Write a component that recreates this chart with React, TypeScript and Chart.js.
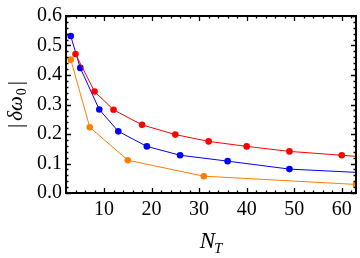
import React, { useEffect, useRef } from "react";
import { Chart, registerables } from "chart.js";

Chart.register(...registerables);

// ---- data ----
const redX = [4, 8, 12, 18, 25, 32, 40, 49, 60, 72];
const redY = [0.471, 0.344, 0.282, 0.231, 0.198, 0.175, 0.158, 0.141, 0.128, 0.113];
const blueX = [3, 5, 9, 13, 19, 26, 36, 49, 68];
const blueY = [0.532, 0.424, 0.283, 0.209, 0.158, 0.128, 0.108, 0.081, 0.066];
const orangeX = [3, 7, 15, 31, 63];
const orangeY = [0.452, 0.223, 0.111, 0.057, 0.029];

const xTickValues = [10, 20, 30, 40, 50, 60];
const yTickValues = [0, 0.1, 0.2, 0.3, 0.4, 0.5, 0.6];
const xMinorStep = 2;
const yMinorStep = 0.02;
const xRange = [2, 63];
const yRange = [0, 0.6];

const yTitleParts = ["|", "δω", "0", "|"];
const xTitleParts = ["N", "T"];

const SERIF = "'Liberation Serif', 'Times New Roman', serif";

function toPoints(xs: number[], ys: number[]) {
  return xs.map((x, i) => ({ x, y: ys[i] }));
}

const framePlugin = {
  id: "mmaFrame",
  afterDatasetsDraw(chart: any) {
    const { ctx, chartArea: a, scales } = chart;
    const xs = scales.x;
    const ys = scales.y;
    ctx.save();
    ctx.strokeStyle = "#000";
    ctx.lineWidth = 1.3;
    const majorLen = 5;
    const minorLen = 2.5;
    // x ticks (bottom & top)
    const nx0 = Math.ceil(xRange[0] / xMinorStep);
    const nx1 = Math.floor(xRange[1] / xMinorStep);
    for (let k = nx0; k <= nx1; k++) {
      const v = k * xMinorStep;
      const isMajor = Math.abs(v % 10) < 1e-9;
      const len = isMajor ? majorLen : minorLen;
      const px = Math.round(xs.getPixelForValue(v)) + 0.5;
      ctx.beginPath();
      ctx.moveTo(px, a.bottom);
      ctx.lineTo(px, a.bottom - len);
      ctx.moveTo(px, a.top);
      ctx.lineTo(px, a.top + len);
      ctx.stroke();
    }
    const ny1 = Math.round((yRange[1] - yRange[0]) / yMinorStep);
    for (let k = 0; k <= ny1; k++) {
      const v = yRange[0] + k * yMinorStep;
      const isMajor = k % 5 === 0;
      const len = isMajor ? majorLen : minorLen;
      const py = Math.round(ys.getPixelForValue(v)) + 0.5;
      ctx.beginPath();
      ctx.moveTo(a.left, py);
      ctx.lineTo(a.left + len, py);
      ctx.moveTo(a.right, py);
      ctx.lineTo(a.right - len, py);
      ctx.stroke();
    }
    ctx.lineWidth = 2;
    ctx.strokeRect(a.left, a.top, a.right - a.left, a.bottom - a.top);
    ctx.restore();
  },
  afterDraw(chart: any) {
    const { ctx, chartArea: a } = chart;
    ctx.save();
    ctx.fillStyle = "#000";
    ctx.textBaseline = "alphabetic";
    ctx.textAlign = "left";

    // Y title: |δω0| rotated
    const mainY = `21px ${SERIF}`;
    const italY = `italic 21px ${SERIF}`;
    const subY = `14px ${SERIF}`;
    const fontsY = [mainY, italY, subY, mainY];
    const shiftsY = [0, 0, 4, 0];
    const gapsY = [3, 1, 3, 0];
    const widths = yTitleParts.map((t, i) => {
      ctx.font = fontsY[i];
      return ctx.measureText(t).width;
    });
    const totalY = widths.reduce((s, w, i) => s + w + gapsY[i], 0);
    ctx.translate(22, (a.top + a.bottom) / 2);
    ctx.rotate(-Math.PI / 2);
    let cx = -totalY / 2;
    yTitleParts.forEach((t, i) => {
      ctx.font = fontsY[i];
      ctx.fillText(t, cx, shiftsY[i]);
      cx += widths[i] + gapsY[i];
    });
    ctx.setTransform(1, 0, 0, 1, 0, 0);

    // X title: N_T
    const fN = `italic 23px ${SERIF}`;
    const fT = `italic 15px ${SERIF}`;
    ctx.font = fN;
    const wN = ctx.measureText(xTitleParts[0]).width;
    ctx.font = fT;
    const wT = ctx.measureText(xTitleParts[1]).width;
    const total = wN + wT - 1;
    const startX = (a.left + a.right) / 2 - total / 2;
    const baseY = 248;
    ctx.font = fN;
    ctx.fillText(xTitleParts[0], startX, baseY);
    ctx.font = fT;
    ctx.fillText(xTitleParts[1], startX + wN - 1, baseY + 5);
    ctx.restore();
  },
};

export default function App() {
  const canvasRef = useRef<HTMLCanvasElement | null>(null);

  useEffect(() => {
    document.body.style.margin = "0";
    const canvas = canvasRef.current;
    if (!canvas) return;
    const mk = (label: string, xs: number[], ys: number[], color: string) => ({
      label,
      data: toPoints(xs, ys),
      borderColor: color,
      backgroundColor: color,
      pointBackgroundColor: color,
      pointBorderWidth: 0,
      pointRadius: 3.3,
      borderWidth: 1,
      tension: 0,
      showLine: true,
    });
    const chart = new Chart(canvas, {
      type: "scatter",
      data: {
        datasets: [
          mk("red", redX, redY, "rgb(255,0,0)"),
          mk("blue", blueX, blueY, "rgb(0,0,255)"),
          mk("orange", orangeX, orangeY, "rgb(255,128,0)"),
        ],
      },
      options: {
        responsive: false,
        animation: false,
        devicePixelRatio: 1,
        layout: { padding: { top: 15, right: 4, left: 0, bottom: 0 } },
        plugins: {
          legend: { display: false },
          tooltip: { enabled: false },
        },
        scales: {
          x: {
            type: "linear",
            min: xRange[0],
            max: xRange[1],
            grid: { display: false, drawTicks: false },
            border: { display: false },
            afterBuildTicks: (s: any) => {
              s.ticks = xTickValues.map((v) => ({ value: v }));
            },
            afterFit: (s: any) => {
              s.height = 65;
            },
            ticks: {
              color: "#000",
              padding: 5,
              maxRotation: 0,
              font: { family: SERIF, size: 20 },
              callback: (v: any) => String(v),
            },
          },
          y: {
            type: "linear",
            min: yRange[0],
            max: yRange[1],
            grid: { display: false, drawTicks: false },
            border: { display: false },
            afterBuildTicks: (s: any) => {
              s.ticks = yTickValues.map((v) => ({ value: v }));
            },
            afterFit: (s: any) => {
              s.width = 66;
            },
            ticks: {
              color: "#000",
              padding: 4,
              font: { family: SERIF, size: 20 },
              callback: (v: any) => Number(v).toFixed(1),
            },
          },
        },
      },
      plugins: [framePlugin],
    } as any);
    return () => chart.destroy();
  }, []);

  return (
    <div style={{ width: 360, height: 258, background: "#fff" }}>
      <canvas ref={canvasRef} width={360} height={258} style={{ display: "block" }} />
    </div>
  );
}
